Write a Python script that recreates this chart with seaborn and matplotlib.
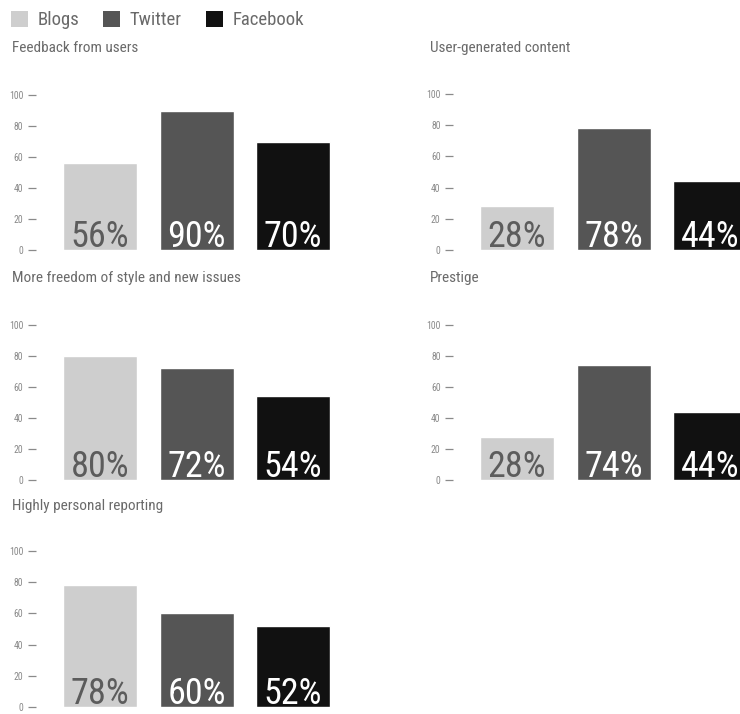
import matplotlib
matplotlib.use("Agg")
import numpy as np
import pandas as pd
import seaborn as sns
import matplotlib.pyplot as plt
from matplotlib import font_manager as fm
from matplotlib.patches import Patch

# ---------------- data ----------------
sources = ["Blogs", "Twitter", "Facebook"]
titles = [
    "Feedback from users",
    "User-generated content",
    "More freedom of style and new issues",
    "Prestige",
    "Highly personal reporting",
]
blogs = [56, 28, 80, 28, 78]
twitter = [90, 78, 72, 74, 60]
facebook = [70, 44, 54, 44, 52]
yticks = [0, 20, 40, 60, 80, 100]

bar_colors = ["#cecece", "#555555", "#111111"]
label_colors = ["#5c5c5c", "#ffffff", "#ffffff"]
text_gray = "#6a6a6a"

# ---------------- fonts ----------------
sns.set_theme(style="white")


def find_narrow():
    prefs = ["liberationsansnarrow", "robotocondensed", "dejavusanscondensed",
             "notosanscondensed", "opensanscondensed", "opensans_condensed"]
    found = {}
    for f in fm.fontManager.ttflist:
        fn = f.fname.lower().replace("-", "").replace(" ", "")
        base = fn.split("/")[-1]
        if any(b in base for b in ["bold", "italic", "oblique", "mono", "light", "thin", "black", "medium", "semi"]):
            continue
        for p in prefs:
            if p in base:
                found.setdefault(p, f.fname)
    for p in prefs:
        if p in found:
            return found[p]
    return None


narrow_path = find_narrow()


def fp(size):
    if narrow_path:
        return fm.FontProperties(fname=narrow_path, size=size)
    return fm.FontProperties(family=["Liberation Sans", "DejaVu Sans"], size=size * 0.85)


# ---------------- layout (pixels) ----------------
W, H = 740, 714
# (axes left px, y of 100, y of 0)
panels = [(36, 95, 250), (453, 94, 250), (36, 325, 480), (453, 325, 480), (36, 551, 707)]
title_pos = [(12, 48), (430, 48), (12, 278), (430, 278), (12, 506)]
xlim = (-0.665, 2.55)
ax_w_px = 310
bar_w = 0.767

fig = plt.figure(figsize=(W / 100, H / 100), dpi=100)
fig.patch.set_facecolor("white")

values = [blogs, twitter, facebook]
for k, (lx, y100, y0) in enumerate(panels):
    df = pd.DataFrame({"source": sources, "value": [values[j][k] for j in range(3)]})
    ax = fig.add_axes([lx / W, 1 - y0 / H, ax_w_px / W, (y0 - y100) / H])
    sns.barplot(data=df, x="source", y="value", hue="source", order=sources,
                hue_order=sources, palette=bar_colors, width=bar_w, saturation=1,
                legend=False, ax=ax)
    ax.set_xlim(*xlim)
    ax.set_ylim(0, 100)
    ax.set_yticks(yticks)
    ax.set_yticklabels([str(t) for t in yticks], fontproperties=fp(7), color="#8a8a8a")
    ax.tick_params(axis="y", length=6, width=0.9, color="#8a8a8a", pad=3, left=True)
    ax.tick_params(axis="x", bottom=False, labelbottom=False)
    ax.set_xlabel("")
    ax.set_ylabel("")
    for s in ax.spines.values():
        s.set_visible(False)
    ax.set_facecolor("none")
    for j, src in enumerate(sources):
        v = df.loc[df.source == src, "value"].iloc[0]
        ax.annotate(f"{v}%", (j, 0), xytext=(0, 2.5), textcoords="offset points",
                    ha="center", va="baseline", color=label_colors[j],
                    fontproperties=fp(26), annotation_clip=False)
    tx, ty = title_pos[k]
    fig.text(tx / W, 1 - ty / H, titles[k], ha="left", va="center",
             color=text_gray, fontproperties=fp(11))

handles = [Patch(facecolor=c, edgecolor="none") for c in bar_colors]
leg = fig.legend(handles, sources, loc="upper left", bbox_to_anchor=(-4 / W, 1 + 4 / H),
                 ncol=3, frameon=False, handlelength=0.9, handleheight=0.9,
                 handletextpad=0.5, columnspacing=1.3, prop=fp(13.5), borderpad=0.3)
for t in leg.get_texts():
    t.set_color(text_gray)

fig.savefig("out.png", dpi=100)
